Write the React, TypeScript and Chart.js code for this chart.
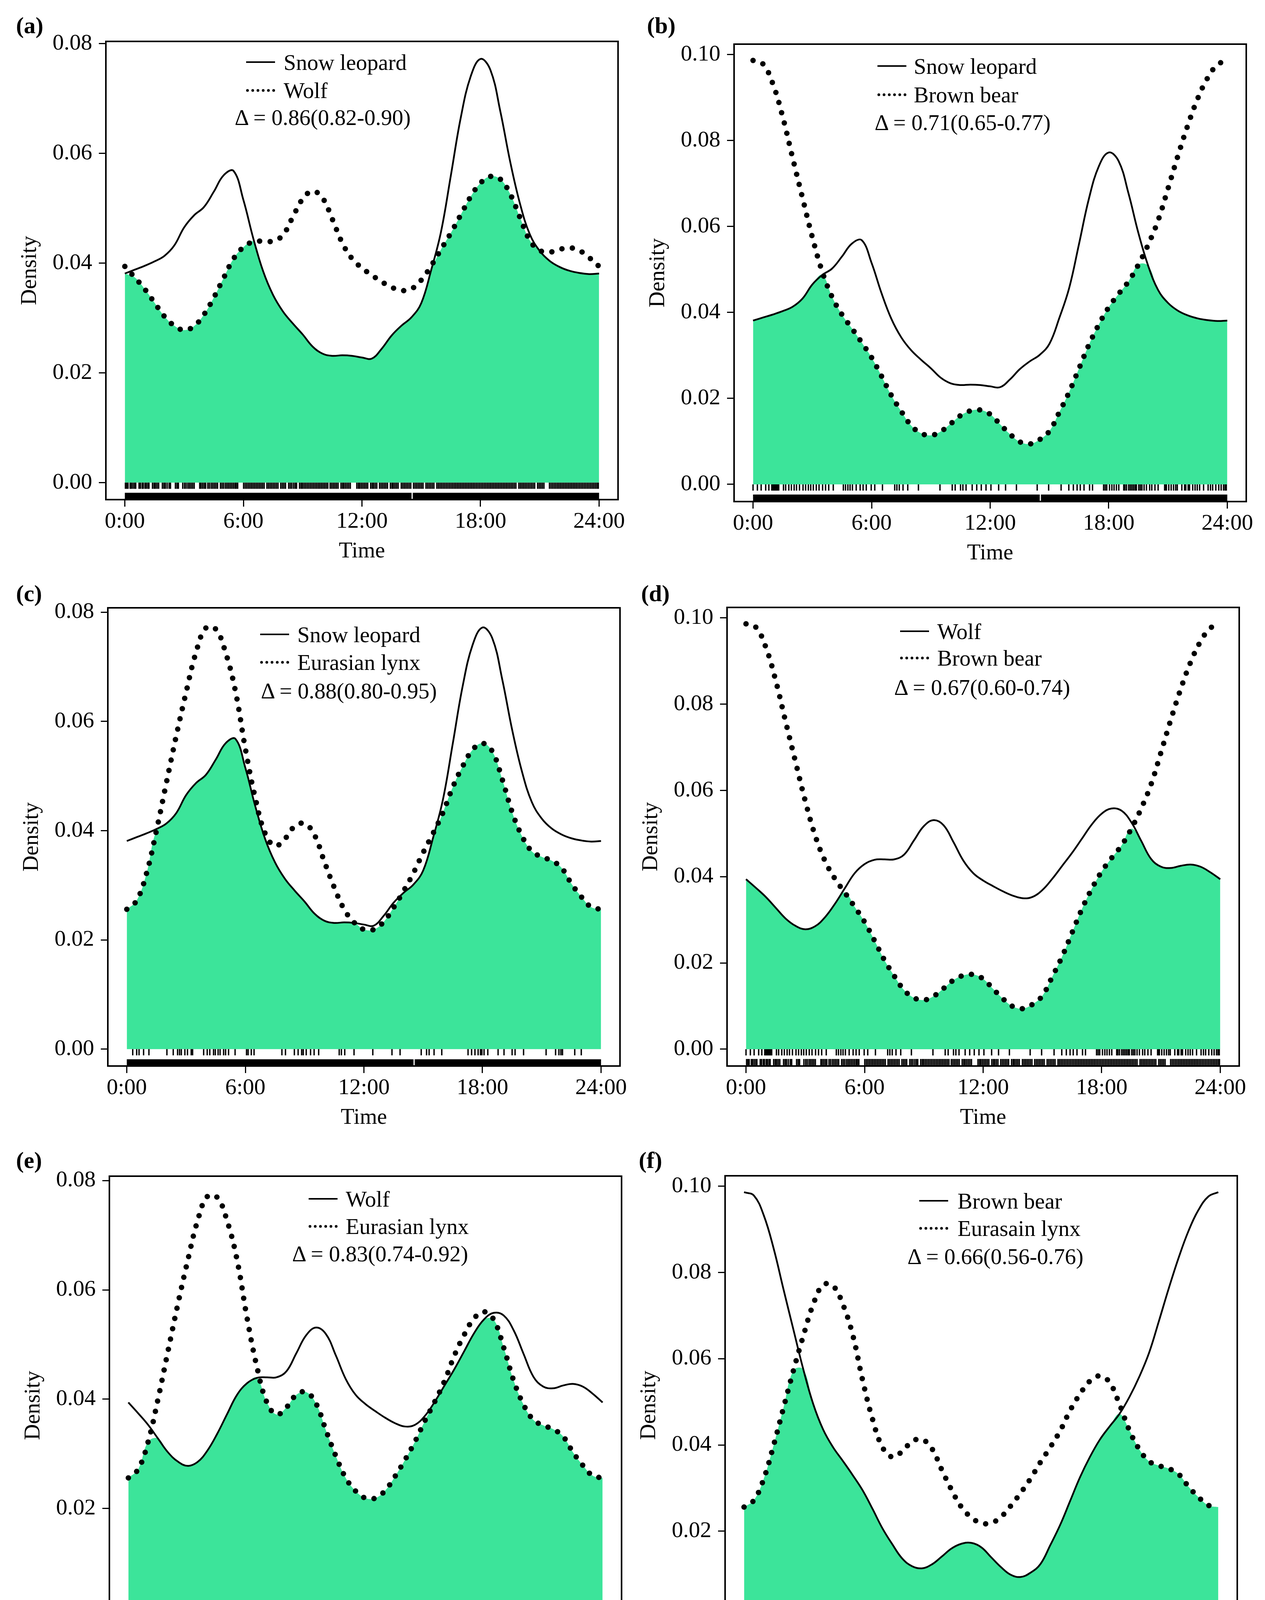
import { useEffect, useRef } from "react"
import { Chart, registerables } from "chart.js"

Chart.register(...registerables)

const FONT = "'Liberation Serif', 'Times New Roman', serif"
const GREEN = "#3ce49a"

// time of day (hours) at which the activity densities were read
const HOURS = [
    0, 0.5, 1, 1.5, 2, 2.5, 3, 3.5, 4, 4.5, 5, 5.5, 6, 6.5, 7, 7.5, 8, 8.5, 9, 9.5, 10, 10.5, 11, 11.5,
    12, 12.5, 13, 13.5, 14, 14.5, 15, 15.5, 16, 16.5, 17, 17.5, 18, 18.5, 19, 19.5, 20, 20.5, 21, 21.5,
    22, 22.5, 23, 23.5, 24
]

const SNOW_LEOPARD = [
    0.0381, 0.0388, 0.0395, 0.0403, 0.0413, 0.0432, 0.0465, 0.0487, 0.0502, 0.0530, 0.0560, 0.0568,
    0.0515, 0.0445, 0.0385, 0.0342, 0.0312, 0.0290, 0.0270, 0.0248, 0.0235, 0.0231, 0.0232, 0.0231,
    0.0228, 0.0226, 0.0244, 0.0268, 0.0286, 0.0301, 0.0327, 0.0387, 0.0457, 0.0560, 0.0665, 0.0740,
    0.0772, 0.0752, 0.0677, 0.0585, 0.0508, 0.0452, 0.0422, 0.0404, 0.0393, 0.0386, 0.0382, 0.0380,
    0.0381
]

const WOLF = [
    0.0394, 0.0374, 0.0353, 0.0328, 0.0303, 0.0286, 0.0278, 0.0285, 0.0306, 0.0337, 0.0373, 0.0408,
    0.0429, 0.0439, 0.0440, 0.0440, 0.0451, 0.0484, 0.0517, 0.0531, 0.0519, 0.0480, 0.0437, 0.0408,
    0.0391, 0.0378, 0.0366, 0.0356, 0.0350, 0.0353, 0.0369, 0.0395, 0.0425, 0.0455, 0.0488, 0.0521,
    0.0546, 0.0558, 0.0553, 0.0526, 0.0483, 0.0441, 0.0423, 0.0420, 0.0425, 0.0428, 0.0423, 0.0410,
    0.0394
]

const BROWN_BEAR = [
    0.0986, 0.0978, 0.0932, 0.0855, 0.0760, 0.0667, 0.0575, 0.0495, 0.0436, 0.0395, 0.0363, 0.0330,
    0.0295, 0.0252, 0.0207, 0.0170, 0.0137, 0.0119, 0.0114, 0.0123, 0.0141, 0.0160, 0.0171, 0.0173,
    0.0163, 0.0140, 0.0117, 0.0099, 0.0094, 0.0104, 0.0124, 0.0168, 0.0215, 0.0270, 0.0325, 0.0372,
    0.0412, 0.0443, 0.0472, 0.0511, 0.0558, 0.0614, 0.0688, 0.0764, 0.0835, 0.0897, 0.0945, 0.0976,
    0.0986
]

const EURASIAN_LYNX = [
    0.0256, 0.0272, 0.0322, 0.0400, 0.0487, 0.0573, 0.0653, 0.0726, 0.0771, 0.0769, 0.0726, 0.0655,
    0.0550, 0.0460, 0.0395, 0.0372, 0.0385, 0.0408, 0.0413, 0.0392, 0.0343, 0.0296, 0.0256, 0.0232,
    0.0219, 0.0219, 0.0233, 0.0259, 0.0289, 0.0322, 0.0360, 0.0395, 0.0433, 0.0480, 0.0518, 0.0548,
    0.0560, 0.0545, 0.0494, 0.0434, 0.0390, 0.0362, 0.0352, 0.0345, 0.0332, 0.0303, 0.0279, 0.0260,
    0.0256
]

// camera-trap records (hours) shown as rugs under the curves
const SNOW_LEOPARD_RUG_SPANS = [[0, 14.51], [14.57, 24]]

const WOLF_RUG = [
    0.03, 0.1, 0.16, 0.27, 0.33, 0.41, 0.49, 0.55, 0.72, 0.79, 0.88, 0.93, 1.02, 1.09, 1.17, 1.22,
    1.4, 1.48, 1.55, 1.63, 1.71, 1.9, 1.98, 2.05, 2.14, 2.24, 2.31, 2.56, 2.64, 2.71, 2.93, 3.02,
    3.1, 3.19, 3.27, 3.35, 3.43, 3.51, 3.79, 3.86, 3.94, 4.02, 4.09, 4.2, 4.28, 4.37, 4.45, 4.53,
    4.61, 4.69, 4.84, 4.92, 5.0, 5.09, 5.17, 5.25, 5.33, 5.41, 5.49, 5.57, 5.64, 5.71, 6.01, 6.09,
    6.17, 6.25, 6.33, 6.41, 6.49, 6.57, 6.65, 6.73, 6.81, 6.89, 6.97, 7.05, 7.19, 7.27, 7.35, 7.43,
    7.51, 7.59, 7.67, 7.75, 7.89, 7.97, 8.05, 8.13, 8.29, 8.37, 8.45, 8.54, 8.62, 8.69, 8.84, 8.92,
    8.99, 9.07, 9.15, 9.23, 9.31, 9.39, 9.47, 9.55, 9.63, 9.71, 9.79, 9.87, 9.95, 10.03, 10.11, 10.19,
    10.27, 10.39, 10.47, 10.55, 10.63, 10.71, 10.79, 10.94, 11.02, 11.09, 11.17, 11.25, 11.33, 11.41,
    11.74, 11.82, 11.89, 11.97, 12.05, 12.13, 12.21, 12.29, 12.44, 12.52, 12.59, 12.67, 12.75, 12.89,
    12.97, 13.05, 13.13, 13.21, 13.29, 13.44, 13.52, 13.59, 13.67, 13.75, 13.83, 13.99, 14.07, 14.15,
    14.23, 14.31, 14.39, 14.47, 14.61, 14.69, 14.77, 14.85, 14.93, 15.01, 15.09, 15.24, 15.32, 15.4,
    15.48, 15.56, 15.64, 15.79, 15.87, 15.95, 16.03, 16.11, 16.19, 16.27, 16.35, 16.43, 16.51, 16.59,
    16.67, 16.75, 16.83, 16.91, 16.99, 17.07, 17.15, 17.23, 17.31, 17.39, 17.47, 17.55, 17.63, 17.71,
    17.79, 17.87, 17.95, 18.03, 18.11, 18.19, 18.27, 18.35, 18.43, 18.51, 18.59, 18.67, 18.75, 18.83,
    18.91, 18.99, 19.07, 19.15, 19.23, 19.31, 19.39, 19.47, 19.55, 19.63, 19.71, 19.79, 19.94, 20.02,
    20.1, 20.18, 20.26, 20.34, 20.42, 20.5, 20.58, 20.66, 20.74, 20.89, 20.97, 21.05, 21.13, 21.21,
    21.49, 21.57, 21.65, 21.73, 21.81, 21.89, 21.97, 22.05, 22.13, 22.21, 22.29, 22.37, 22.45, 22.53,
    22.61, 22.69, 22.77, 22.85, 22.93, 23.01, 23.09, 23.17, 23.25, 23.33, 23.41, 23.49, 23.57, 23.65,
    23.73, 23.81, 23.89, 23.96
]

const BROWN_BEAR_RUG = [
    0.0, 0.22, 0.41, 0.64, 0.8, 0.95, 1.0, 1.05, 1.1, 1.15, 1.2, 1.25, 1.3, 1.54, 1.65, 1.81, 1.94,
    2.08, 2.2, 2.35, 2.53, 2.66, 2.8, 2.92, 3.05, 3.2, 3.34, 3.52, 3.67, 3.83, 4.06, 4.57, 4.68, 4.8,
    4.91, 5.03, 5.22, 5.42, 5.57, 5.73, 5.98, 6.16, 6.55, 7.17, 7.28, 7.4, 7.59, 7.83, 8.37, 9.46,
    10.08, 10.23, 10.5, 10.62, 10.78, 11.09, 11.32, 11.55, 11.79, 12.04, 12.43, 12.78, 13.33, 14.38,
    14.96, 15.59, 15.98, 16.21, 16.4, 16.56, 16.75, 17.03, 17.18, 17.74, 17.82, 17.9, 18.04, 18.16,
    18.27, 18.39, 18.51, 18.76, 18.82, 18.9, 19.01, 19.09, 19.17, 19.25, 19.33, 19.4, 19.52, 19.6,
    19.68, 19.79, 19.91, 20.07, 20.18, 20.34, 20.5, 20.83, 20.89, 20.92, 21.04, 21.16, 21.28, 21.39,
    21.47, 21.7, 21.84, 21.9, 22.02, 22.09, 22.25, 22.37, 22.48, 22.6, 22.8, 23.03, 23.15, 23.26,
    23.42, 23.57, 23.69, 23.81, 23.89, 23.95
]

const EURASIAN_LYNX_RUG = [
    0.3, 0.5, 0.62, 0.85, 1.12, 2.03, 2.35, 2.57, 2.67, 2.76, 2.94, 3.07, 3.26, 3.33, 3.89, 4.07, 4.2,
    4.39, 4.48, 4.62, 4.72, 4.9, 5.0, 5.15, 5.48, 6.06, 6.14, 6.3, 6.44, 7.85, 8.03, 8.48, 8.67, 8.85,
    8.93, 9.08, 9.3, 9.48, 9.71, 10.75, 10.86, 11.03, 11.5, 12.45, 13.42, 13.83, 14.9, 15.17, 15.3,
    15.55, 15.94, 17.27, 17.45, 17.62, 17.78, 17.9, 17.97, 18.08, 18.27, 18.79, 19.09, 19.5, 19.65,
    20.08, 21.22, 21.7, 21.87, 21.97, 22.05, 22.67, 23.0
]

const X_TICKS = [0, 6, 12, 18, 24]
const X_TICK_LABELS = ["0:00", "6:00", "12:00", "18:00", "24:00"]
const Y_TICKS_008 = [0, 0.02, 0.04, 0.06, 0.08]
const Y_TICKS_010 = [0, 0.02, 0.04, 0.06, 0.08, 0.1]

const SPECIES: Record<string, { density: number[]; rug?: number[]; spans?: number[][] }> = {
    snowLeopard: { density: SNOW_LEOPARD, spans: SNOW_LEOPARD_RUG_SPANS },
    wolf: { density: WOLF, rug: WOLF_RUG },
    brownBear: { density: BROWN_BEAR, rug: BROWN_BEAR_RUG },
    lynx: { density: EURASIAN_LYNX, rug: EURASIAN_LYNX_RUG }
}

// solid species first, dotted species second
const PAIRS = [
    ["snowLeopard", "wolf"],
    ["snowLeopard", "brownBear"],
    ["snowLeopard", "lynx"],
    ["wolf", "brownBear"],
    ["wolf", "lynx"],
    ["brownBear", "lynx"]
]
const LEGEND_NAMES = [
    ["Snow leopard", "Wolf"],
    ["Snow leopard", "Brown bear"],
    ["Snow leopard", "Eurasian lynx"],
    ["Wolf", "Brown bear"],
    ["Wolf", "Eurasian lynx"],
    ["Brown bear", "Eurasain lynx"]
]
const DELTAS = [
    "Δ = 0.86(0.82-0.90)",
    "Δ = 0.71(0.65-0.77)",
    "Δ = 0.88(0.80-0.95)",
    "Δ = 0.67(0.60-0.74)",
    "Δ = 0.83(0.74-0.92)",
    "Δ = 0.66(0.56-0.76)"
]
const TAGS = ["(a)", "(b)", "(c)", "(d)", "(e)", "(f)"]
const Y_RANGES = [
    [-0.0031, 0.0804],
    [-0.0040, 0.1024],
    [-0.0031, 0.0808],
    [-0.0039, 0.1024],
    [-0.0031, 0.0808],
    [-0.0040, 0.1024]
]
const Y_TICK_SETS = [Y_TICKS_008, Y_TICKS_010, Y_TICKS_008, Y_TICKS_010, Y_TICKS_008, Y_TICKS_010]

// page layout: plot box [left, top, width, height], tag position, legend offsets inside the box
const LAYOUT = [
    { box: [271, 106, 1311, 1173], tag: [41, 65], sample: 359, text: 455, rows: [53, 125, 195], delta: 555 },
    { box: [1879, 113, 1311, 1171], tag: [1656, 65], sample: 367, text: 460, rows: [56, 129, 201], delta: 585 },
    { box: [276, 1556, 1311, 1173], tag: [41, 1519], sample: 390, text: 485, rows: [68, 139, 213], delta: 617 },
    { box: [1861, 1555, 1311, 1174], tag: [1641, 1519], sample: 443, text: 538, rows: [61, 129, 205], delta: 653 },
    { box: [280, 3011, 1311, 1174], tag: [41, 2970], sample: 510, text: 605, rows: [58, 128, 199], delta: 693 },
    { box: [1856, 3010, 1311, 1175], tag: [1635, 2970], sample: 497, text: 595, rows: [64, 134, 207], delta: 692 }
]

const X_MIN = -0.96
const X_MAX = 24.96
const PAD_LEFT = 260
const PAD_TOP = 100
const PAD_RIGHT = 40
const PAD_BOTTOM = 175

const boxPlugin = {
    id: "panelBox",
    afterDraw(chart: any) {
        const { ctx, chartArea } = chart
        ctx.save()
        ctx.strokeStyle = "#000"
        ctx.lineWidth = 4
        ctx.strokeRect(chartArea.left, chartArea.top, chartArea.right - chartArea.left, chartArea.bottom - chartArea.top)
        ctx.restore()
    }
}

function OverlapPanel({ index }: { index: number }) {
    const canvasRef = useRef<HTMLCanvasElement>(null)
    const layout = LAYOUT[index]
    const [left, top, width, height] = layout.box
    const [nameA, nameB] = LEGEND_NAMES[index]

    useEffect(() => {
        const a = SPECIES[PAIRS[index][0]]
        const b = SPECIES[PAIRS[index][1]]
        const [yMin, yMax] = Y_RANGES[index]
        const yTicks = Y_TICK_SETS[index]
        const pxPerUnit = height / (yMax - yMin)
        const below = (px: number) => -px / pxPerUnit

        const curve = (values: number[]) => HOURS.map((h, i) => ({ x: h, y: values[i] }))
        const overlap = HOURS.map((h, i) => ({ x: h, y: Math.min(a.density[i], b.density[i]) }))
        const ticks = (times: number[], px: number) => times.map((t) => ({ x: t, y: below(px) }))

        const rugTick = {
            showLine: false,
            pointStyle: "line",
            pointRotation: 90,
            pointRadius: 8,
            pointBorderWidth: 3.5,
            pointBorderColor: "#000",
            borderColor: "#000"
        }

        const datasets: any[] = [
            {
                data: curve(b.density), borderColor: "#000", borderWidth: 14, borderDash: [0, 27],
                borderCapStyle: "round", pointRadius: 0, tension: 0.4, fill: false, order: 1
            },
            {
                data: curve(a.density), borderColor: "#000", borderWidth: 4.5,
                pointRadius: 0, tension: 0.4, fill: false, order: 2
            },
            {
                data: overlap, borderWidth: 0, borderColor: GREEN, backgroundColor: GREEN,
                pointRadius: 0, tension: 0.4, fill: "origin", order: 9
            },
            { ...rugTick, data: ticks(b.rug || [], 8), order: 3 }
        ]

        if (a.spans) {
            const bar: any[] = []
            a.spans.forEach(([s, e], i) => {
                if (i > 0) bar.push({ x: (a.spans![i - 1][1] + s) / 2, y: null })
                bar.push({ x: s, y: below(34) }, { x: e, y: below(34) })
            })
            datasets.push({
                data: bar, borderColor: "#000", borderWidth: 16, borderCapStyle: "butt",
                pointRadius: 0, spanGaps: false, fill: false, order: 4
            })
        } else {
            datasets.push({ ...rugTick, data: ticks(a.rug || [], 33), order: 4 })
        }

        const gridOpts = {
            drawOnChartArea: false,
            drawTicks: true,
            tickLength: 18,
            tickWidth: 3,
            tickColor: "#000",
            color: "#000"
        }

        const chart = new Chart(canvasRef.current!, {
            type: "line",
            data: { datasets },
            options: {
                responsive: false,
                animation: false,
                devicePixelRatio: 1,
                events: [],
                layout: { padding: { left: 0, top: PAD_TOP, right: PAD_RIGHT, bottom: 0 } },
                plugins: { legend: { display: false }, tooltip: { enabled: false } },
                scales: {
                    x: {
                        type: "linear",
                        min: X_MIN,
                        max: X_MAX,
                        afterBuildTicks: (s: any) => { s.ticks = X_TICKS.map((v) => ({ value: v })) },
                        afterFit: (s: any) => { s.height = PAD_BOTTOM },
                        ticks: {
                            callback: (v: any) => X_TICK_LABELS[X_TICKS.indexOf(Number(v))] ?? "",
                            font: { family: FONT, size: 58 },
                            color: "#000",
                            padding: 4,
                            maxRotation: 0,
                            autoSkip: false
                        },
                        grid: gridOpts,
                        border: { display: false },
                        title: {
                            display: true, text: "Time", color: "#000",
                            font: { family: FONT, size: 57 }, padding: { top: 0, bottom: 8 }
                        }
                    },
                    y: {
                        type: "linear",
                        min: yMin,
                        max: yMax,
                        afterBuildTicks: (s: any) => { s.ticks = yTicks.map((v) => ({ value: v })) },
                        afterFit: (s: any) => { s.width = PAD_LEFT },
                        ticks: {
                            callback: (v: any) => Number(v).toFixed(2),
                            font: { family: FONT, size: 58 },
                            color: "#000",
                            padding: 17
                        },
                        grid: gridOpts,
                        border: { display: false },
                        title: {
                            display: true, text: "Density", color: "#000",
                            font: { family: FONT, size: 57 }, padding: { top: 32, bottom: 0 }
                        }
                    }
                }
            } as any,
            plugins: [boxPlugin]
        })

        return () => chart.destroy()
    }, [index, height])

    const rowStyle = (y: number) => ({
        position: "absolute" as const,
        left: left + layout.sample,
        top: top + y - 40,
        height: 80,
        display: "flex",
        alignItems: "center",
        fontSize: 57,
        lineHeight: 1,
        whiteSpace: "nowrap" as const
    })
    const gap = layout.text - layout.sample - 74

    return (
        <>
            <canvas
                ref={canvasRef}
                width={width + PAD_LEFT + PAD_RIGHT}
                height={height + PAD_TOP + PAD_BOTTOM}
                style={{ position: "absolute", left: left - PAD_LEFT, top: top - PAD_TOP }}
            />
            <div style={{ position: "absolute", left: layout.tag[0], top: layout.tag[1] - 32, fontSize: 60, lineHeight: "64px", fontWeight: "bold" }}>
                {TAGS[index]}
            </div>
            <div style={rowStyle(layout.rows[0])}>
                <div style={{ width: 74, borderTop: "4px solid #000" }}></div>
                <span style={{ marginLeft: gap }}>{nameA}</span>
            </div>
            <div style={rowStyle(layout.rows[1])}>
                <div style={{ width: 74, borderTop: "7px dotted #000" }}></div>
                <span style={{ marginLeft: gap }}>{nameB}</span>
            </div>
            <div
                style={{
                    position: "absolute", left: left + layout.delta - 400, width: 800, top: top + layout.rows[2] - 40,
                    height: 80, lineHeight: "80px", textAlign: "center", fontSize: 57, whiteSpace: "nowrap"
                }}
            >
                {DELTAS[index]}
            </div>
        </>
    )
}

export default function App() {
    return (
        <div
            style={{
                position: "absolute", left: 0, top: 0, width: 3238, height: 4373, overflow: "hidden",
                background: "#fff", color: "#000", fontFamily: FONT
            }}
        >
            {LAYOUT.map((_, i) => <OverlapPanel key={i} index={i} />)}
        </div>
    )
}
